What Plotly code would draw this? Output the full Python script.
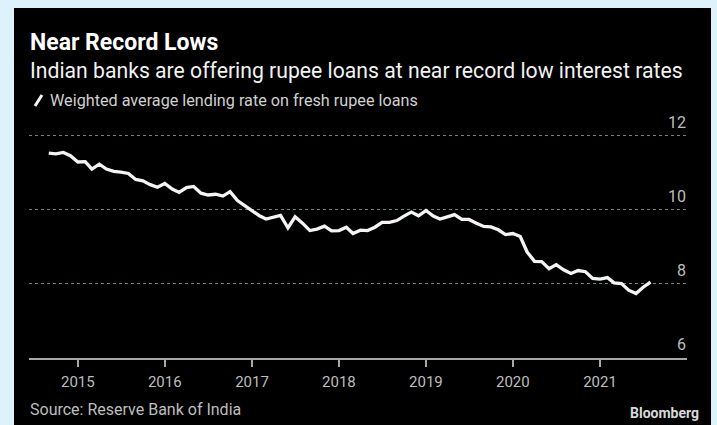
import pandas as pd
import plotly.graph_objects as go

# Monthly weighted average lending rate on fresh rupee loans (%), Sep 2014 - Aug 2021
months = pd.date_range("2014-09-01", periods=84, freq="MS")
rates = [
    11.53, 11.51, 11.55, 11.46, 11.29, 11.30, 11.10, 11.23, 11.10, 11.04, 11.02, 10.98,
    10.82, 10.78, 10.68, 10.61, 10.71, 10.56, 10.47, 10.60, 10.63, 10.45, 10.40, 10.42,
    10.37, 10.49, 10.25, 10.12, 9.97, 9.84, 9.75, 9.81, 9.85, 9.51, 9.81, 9.64,
    9.44, 9.48, 9.56, 9.43, 9.44, 9.53, 9.36, 9.45, 9.44, 9.53, 9.66, 9.66,
    9.71, 9.83, 9.94, 9.84, 9.98, 9.83, 9.75, 9.81, 9.87, 9.74, 9.74, 9.64,
    9.55, 9.54, 9.46, 9.33, 9.36, 9.28, 8.86, 8.61, 8.60, 8.41, 8.52, 8.38,
    8.28, 8.36, 8.33, 8.15, 8.13, 8.17, 8.03, 8.01, 7.83, 7.74, 7.91, 8.05,
]
year_labels = ["2015", "2016", "2017", "2018", "2019", "2020", "2021"]
year_ticks = [f"{y}-01-01" for y in year_labels]
rate_ticks = [6, 8, 10, 12]

title = "Near Record Lows"
subtitle = "Indian banks are offering rupee loans at near record low interest rates"
series_name = "Weighted average lending rate on fresh rupee loans"
source = "Source: Reserve Bank of India"
brand = "Bloomberg"

W, H = 717, 425
L, R, T, B = 29, 30, 132, 67
pw, ph = W - L - R, H - T - B


def px(x):
    return (x - L) / pw


def py(y):
    return (H - B - y) / ph


FONT = "Roboto"
BG = "#ddf2fa"
TICK_GREY = "#bdbdbd"

fig = go.Figure()
fig.add_trace(go.Scatter(
    x=months, y=rates, mode="lines", name=series_name,
    line=dict(color="#f4f4f4", width=3.3, shape="linear"),
    hoverinfo="x+y", showlegend=False,
))

shapes = [
    # dark card behind the chart
    dict(type="rect", xref="paper", yref="paper", x0=px(14), x1=px(711),
         y0=py(425), y1=py(8), fillcolor="#000000", line_width=0, layer="below"),
    # legend swatch
    dict(type="line", xref="paper", yref="paper", x0=px(35), x1=px(42),
         y0=py(106), y1=py(95), line=dict(color="#f4f4f4", width=3)),
]

annotations = [
    dict(text=f"<b>{title}</b>", x=px(28), y=py(43), xref="paper", yref="paper",
         xanchor="left", yanchor="middle", showarrow=False,
         font=dict(family=FONT, size=23, color="#ffffff")),
    dict(text=subtitle, x=px(28), y=py(71), xref="paper", yref="paper",
         xanchor="left", yanchor="middle", showarrow=False,
         font=dict(family=FONT, size=21.2, color="#f2f2f2")),
    dict(text=series_name, x=px(48), y=py(101), xref="paper", yref="paper",
         xanchor="left", yanchor="middle", showarrow=False,
         font=dict(family=FONT, size=16.2, color="#d0d0d0")),
    dict(text=source, x=px(28), y=py(409), xref="paper", yref="paper",
         xanchor="left", yanchor="middle", showarrow=False,
         font=dict(family=FONT, size=16, color=TICK_GREY)),
    dict(text=f"<b>{brand}</b>", x=px(701), y=py(413), xref="paper", yref="paper",
         xanchor="right", yanchor="middle", showarrow=False,
         font=dict(family=FONT, size=14, color="#d8d8d8")),
]

# value labels sit just above their gridlines, right-aligned
for v in rate_ticks:
    annotations.append(dict(
        text=str(v), x=1.002, y=v, xref="paper", yref="y",
        xanchor="right", yanchor="bottom", yshift=2, showarrow=False,
        font=dict(family=FONT, size=16, color=TICK_GREY),
    ))

fig.update_layout(
    width=W, height=H,
    margin=dict(l=L, r=R, t=T, b=B, pad=0),
    paper_bgcolor=BG, plot_bgcolor="rgba(0,0,0,0)",
    shapes=shapes, annotations=annotations,
    showlegend=False,
    xaxis=dict(
        type="date", range=["2014-06-10", "2022-01-01"],
        tickvals=year_ticks, ticktext=year_labels,
        ticks="outside", ticklen=7, tickwidth=1.5, tickcolor="#a8a8a8",
        showline=True, linecolor="#a8a8a8", linewidth=2,
        showgrid=False, zeroline=False,
        tickfont=dict(family=FONT, size=15, color=TICK_GREY),
        ticklabelstandoff=2,
    ),
    yaxis=dict(
        range=[6, 12.1], side="right",
        tickvals=rate_ticks, showticklabels=False, ticks="",
        showgrid=True, gridcolor="#6f8488", gridwidth=1, griddash="dot",
        zeroline=False, showline=False,
    ),
)

fig.write_html("out.html")
